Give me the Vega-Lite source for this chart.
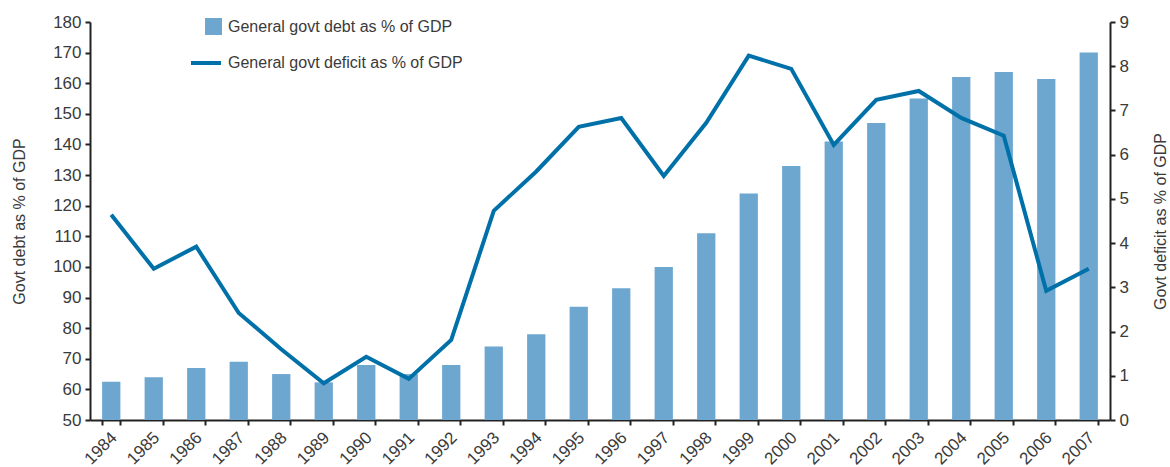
{
  "$schema": "https://vega.github.io/schema/vega-lite/v6.json",
  "width": 1020,
  "height": 398,
  "autosize": {"type": "none"},
  "padding": {"left": 90, "top": 22, "right": 60, "bottom": 47},
  "background": "white",
  "config": {
    "view": {"stroke": null},
    "font": "Liberation Sans",
    "axis": {
      "labelFont": "Liberation Sans",
      "titleFont": "Liberation Sans",
      "labelFontSize": 17,
      "titleFontSize": 16,
      "labelColor": "#3a3a3a",
      "titleColor": "#3a3a3a",
      "titleFontWeight": "normal",
      "domainColor": "#222222",
      "tickColor": "#222222",
      "domainWidth": 2,
      "tickWidth": 2,
      "tickSize": 5,
      "grid": false
    },
    "legend": {
      "labelFont": "Liberation Sans",
      "labelFontSize": 16,
      "labelColor": "#3a3a3a",
      "labelLimit": 0
    }
  },
  "data": {
    "values": [
      {"year": "1984", "debt": 62.5, "deficit": 4.64},
      {"year": "1985", "debt": 64, "deficit": 3.42},
      {"year": "1986", "debt": 67, "deficit": 3.92},
      {"year": "1987", "debt": 69, "deficit": 2.42},
      {"year": "1988", "debt": 65, "deficit": 1.6},
      {"year": "1989", "debt": 62.3, "deficit": 0.83},
      {"year": "1990", "debt": 68, "deficit": 1.43},
      {"year": "1991", "debt": 65, "deficit": 0.93},
      {"year": "1992", "debt": 68, "deficit": 1.81},
      {"year": "1993", "debt": 74, "deficit": 4.73},
      {"year": "1994", "debt": 78, "deficit": 5.62},
      {"year": "1995", "debt": 87, "deficit": 6.63},
      {"year": "1996", "debt": 93, "deficit": 6.83},
      {"year": "1997", "debt": 100, "deficit": 5.52},
      {"year": "1998", "debt": 111, "deficit": 6.72},
      {"year": "1999", "debt": 124, "deficit": 8.24},
      {"year": "2000", "debt": 133, "deficit": 7.94},
      {"year": "2001", "debt": 141, "deficit": 6.22},
      {"year": "2002", "debt": 147, "deficit": 7.24},
      {"year": "2003", "debt": 155, "deficit": 7.44},
      {"year": "2004", "debt": 162, "deficit": 6.83},
      {"year": "2005", "debt": 163.7, "deficit": 6.43},
      {"year": "2006", "debt": 161.4, "deficit": 2.92},
      {"year": "2007", "debt": 170, "deficit": 3.42}
    ]
  },
  "encoding": {
    "x": {
      "field": "year",
      "type": "ordinal",
      "scale": {"paddingInner": 0.57, "paddingOuter": 0.285},
      "axis": {
        "title": null,
        "labelAngle": -45,
        "labelAlign": "right",
        "labelBaseline": "top",
        "labelFontSize": 17,
        "labelOffset": -3,
        "labelPadding": 4,
        "tickBand": "extent"
      }
    }
  },
  "layer": [
    {
      "mark": {"type": "bar", "clip": true},
      "encoding": {
        "y": {
          "field": "debt",
          "type": "quantitative",
          "scale": {"domain": [50, 180], "zero": false, "nice": false},
          "axis": {
            "title": "Govt debt as % of GDP",
            "values": [50, 60, 70, 80, 90, 100, 110, 120, 130, 140, 150, 160, 170, 180],
            "labelPadding": 4,
            "titlePadding": 25
          }
        },
        "y2": {"datum": 50},
        "fill": {
          "datum": "General govt debt as % of GDP",
          "type": "nominal",
          "scale": {"range": ["#6DA7D0"]},
          "legend": {
            "title": null,
            "orient": "none",
            "legendX": 115,
            "legendY": -4,
            "symbolType": "square",
            "symbolSize": 289,
            "symbolStrokeWidth": 0,
            "labelOffset": 6
          }
        }
      }
    },
    {
      "mark": {"type": "line", "strokeWidth": 4, "strokeJoin": "miter"},
      "encoding": {
        "y": {
          "field": "deficit",
          "type": "quantitative",
          "scale": {"domain": [0, 9], "nice": false},
          "axis": {
            "orient": "right",
            "title": "Govt deficit as % of GDP",
            "values": [0, 1, 2, 3, 4, 5, 6, 7, 8, 9],
            "labelPadding": 4,
            "titlePadding": 40,
            "titleAngle": -90
          }
        },
        "stroke": {
          "datum": "General govt deficit as % of GDP",
          "type": "nominal",
          "scale": {"range": ["#0071A8"]},
          "legend": {
            "title": null,
            "orient": "none",
            "legendX": 99,
            "legendY": 24,
            "symbolType": "stroke",
            "symbolSize": 900,
            "symbolStrokeWidth": 4,
            "labelOffset": 5
          }
        }
      }
    }
  ],
  "resolve": {"scale": {"y": "independent"}}
}
